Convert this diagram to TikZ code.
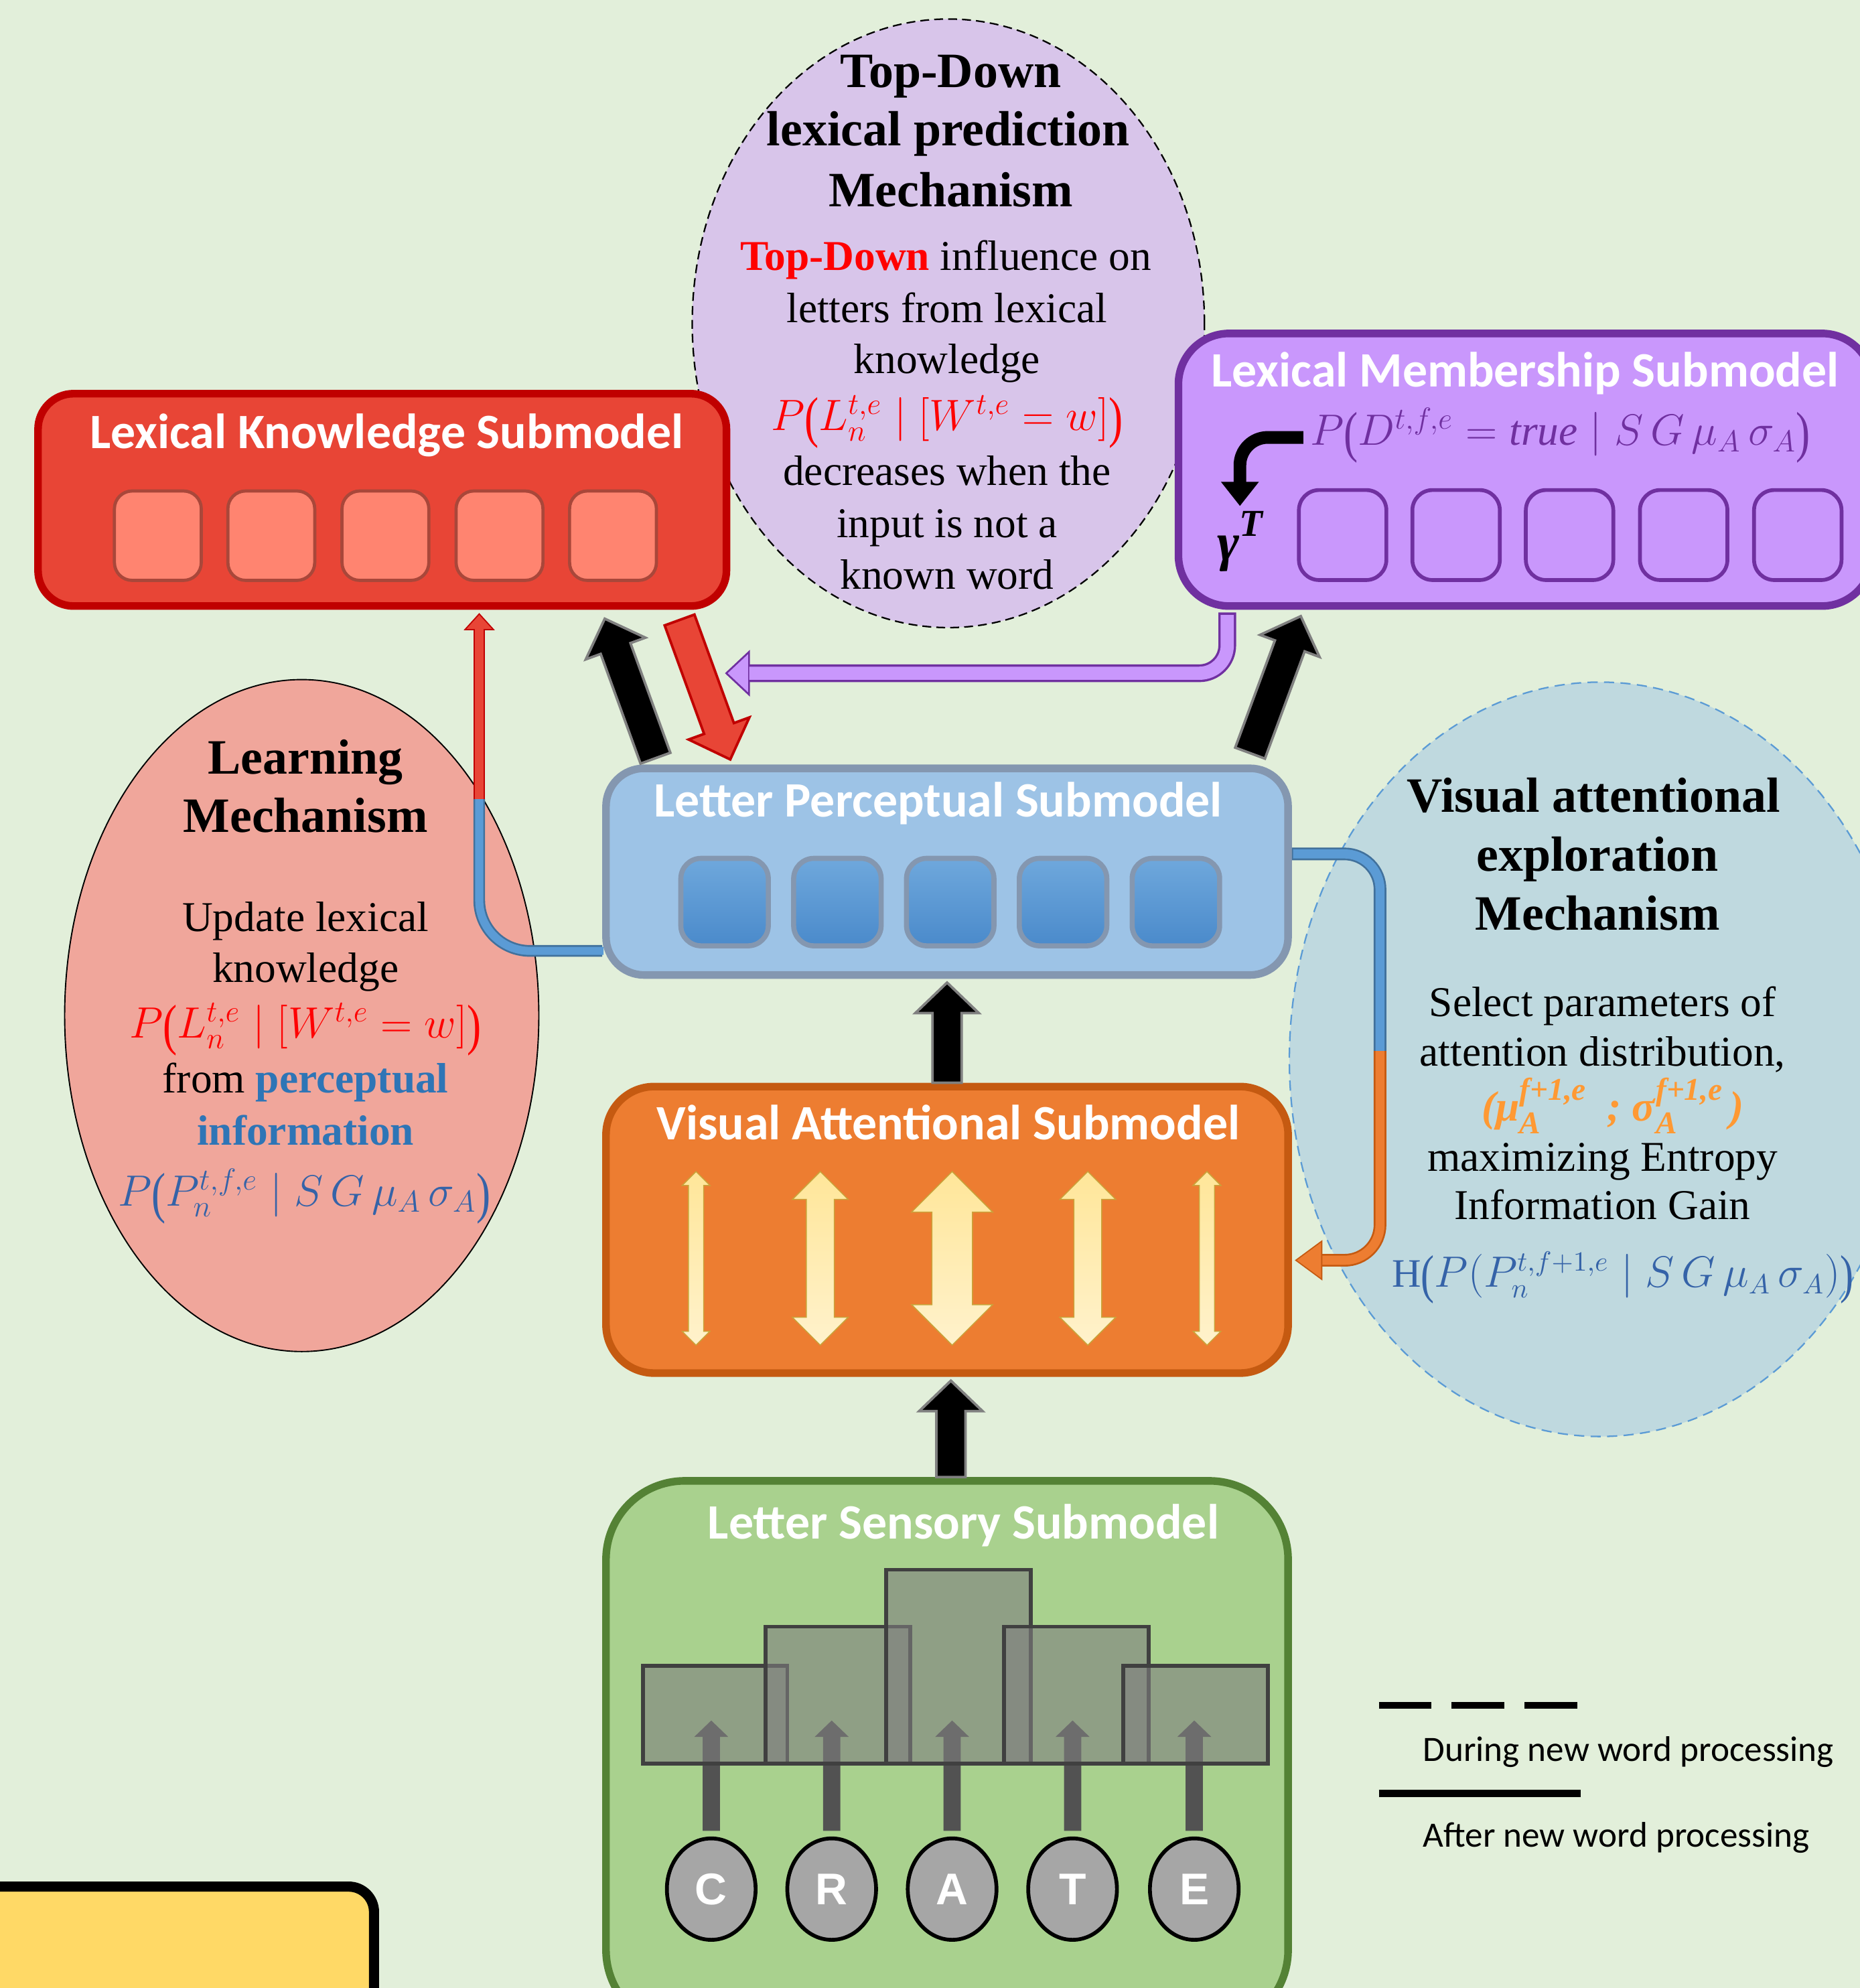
\documentclass[tikz,border=0pt]{standalone}
\usepackage{amsmath}
\usepackage{graphicx}
\usepackage{fontspec}
\setmainfont{Liberation Serif}
\newfontfamily\calibri{Carlito}
\newfontfamily\arialf{Liberation Sans}
\usetikzlibrary{calc,shapes.geometric}

\definecolor{bg}{HTML}{E2EFDA}
\definecolor{tdfill}{HTML}{D8C5EA}
\definecolor{lefill}{HTML}{F0A69B}
\definecolor{vefill}{HTML}{BFD9DF}
\definecolor{veline}{HTML}{5B9BD5}
\definecolor{lkfill}{HTML}{E84536}
\definecolor{lkdraw}{HTML}{C00000}
\definecolor{lkcell}{HTML}{FF8470}
\definecolor{lkcelld}{HTML}{A9473A}
\definecolor{lmfill}{HTML}{C997FC}
\definecolor{lmdraw}{HTML}{7030A0}
\definecolor{lpfill}{HTML}{9DC3E6}
\definecolor{lpdraw}{HTML}{8497B0}
\definecolor{lpcta}{HTML}{6FA8DC}
\definecolor{lpctb}{HTML}{4A8ACB}
\definecolor{vafill}{HTML}{ED7D31}
\definecolor{vadraw}{HTML}{C55A11}
\definecolor{lsfill}{HTML}{A9D18E}
\definecolor{lsdraw}{HTML}{548235}
\definecolor{ylw}{HTML}{FFD966}
\definecolor{redt}{HTML}{FF0000}
\definecolor{pblue}{HTML}{2E75B6}
\definecolor{fblue}{HTML}{3563A8}
\definecolor{forange}{HTML}{FF9933}
\definecolor{pipeblue}{HTML}{5B9BD5}
\definecolor{pipeblued}{HTML}{41719C}
\definecolor{dblt}{HTML}{FFE699}
\definecolor{dblb}{HTML}{FFF2CC}
\definecolor{dbld}{HTML}{C9A33A}
\definecolor{gcirc}{HTML}{A6A6A6}
\definecolor{garrow}{HTML}{525252}
\definecolor{grect}{HTML}{7F7F7F}
\definecolor{rectd}{HTML}{404040}

\newcommand\bi[1]{\textbf{\textit{#1}}}
\newcommand\bpl{\mathopen{\raisebox{-0.14em}{\scalebox{1}[1.32]{(}}}}
\newcommand\bpr{\mathclose{\raisebox{-0.14em}{\scalebox{1}[1.32]{)}}}}
\newcommand\supsub[2]{\raisebox{-0.3em}{\makebox[0pt][l]{\fontsize{12.5}{13}\selectfont\bi{#2}}}\raisebox{0.48em}{\fontsize{12.5}{13}\selectfont\bi{#1}}}
\newcommand\fLW{$P\bpl L_n^{t,e} \mid [W^{t,e} = w]\bpr$}
\newcommand\fPP{$P\bpl P_n^{t,f,e} \mid S\,G\,\mu_A\,\sigma_A\bpr$}
\newcommand\fOR{\bi{(μ}\supsub{f+1,e}{A}\ \ \bi{\char59}\ \bi{σ}\supsub{f+1,e}{A}\,\bi{)}}
\newcommand\fHH{$\mathrm{H}\bpl P(P_n^{t,f+1,e} \mid S\,G\,\mu_A\,\sigma_A)\bpr$}
\newcommand\fDD{$P\bpl D^{t,f,e} = \mathit{true} \mid S\,G\,\mu_A\,\sigma_A\bpr$}
\newcommand\fGT{\bi{γ}\raisebox{0.45em}{\fontsize{15}{16}\selectfont\bi{T}}}

% block arrow: #1 style, #2 tail, #3 tip, #4 half shaft, #5 half head, #6 head length
\newcommand\blockarrow[6]{%
  \coordinate (baH) at ($(#3)!#6!(#2)$);
  \path[#1] ($(#2)!#4!90:(#3)$) -- ($(baH)!#4!90:(#3)$) -- ($(baH)!#5!90:(#3)$) -- (#3)
    -- ($(baH)!#5!-90:(#3)$) -- ($(baH)!#4!-90:(#3)$) -- ($(#2)!#4!-90:(#3)$) -- cycle;
}
% double vertical arrow: #1 x, #2 half shaft, #3 half head, #4 head length (units)
\newcommand\dblarrow[4]{%
  \shadedraw[dblsty] (#1,924) -- ({#1+#3},{924+#4}) -- ({#1+#2},{924+#4}) -- ({#1+#2},{1061-#4})
    -- ({#1+#3},{1061-#4}) -- (#1,1061) -- ({#1-#3},{1061-#4}) -- ({#1-#2},{1061-#4})
    -- ({#1-#2},{924+#4}) -- ({#1-#3},{924+#4}) -- cycle;
}

\begin{document}
\begin{tikzpicture}[x=0.5pt,y=-0.5pt,
  ttl/.style={font=\fontsize{19.5}{23}\selectfont\bfseries, inner sep=0, anchor=base},
  bdy/.style={font=\fontsize{16.75}{20}\selectfont, inner sep=0, anchor=base},
  boxttl/.style={font=\calibri\fontsize{19.5}{23}\selectfont\bfseries, text=white, inner sep=0, anchor=base},
  leg/.style={font=\calibri\fontsize{14.05}{17}\selectfont, inner sep=0, anchor=base west},
  bigbox/.style={rectangle, line width=3pt, inner sep=0},
  lkcellsty/.style={rectangle, rounded corners=7pt, fill=lkcell, draw=lkcelld, line width=1.25pt, minimum width=34.25pt, minimum height=35.25pt, inner sep=0},
  lmcellsty/.style={rectangle, rounded corners=8pt, fill=lmfill, draw=lmdraw, line width=1.5pt, minimum width=34.5pt, minimum height=35.5pt, inner sep=0},
  lpcellsty/.style={rectangle, rounded corners=8pt, top color=lpcta, bottom color=lpctb, draw=lpdraw, line width=2pt, minimum width=34.5pt, minimum height=34.5pt, inner sep=0},
  circsty/.style={ellipse, fill=gcirc, draw=black, line width=1.5pt, minimum width=35pt, minimum height=40pt, inner sep=0, text=white, font=\arialf\bfseries\fontsize{17.5}{20}\selectfont},
  rectsty/.style={fill=grect, fill opacity=0.6, draw=rectd, line width=1.5pt},
  dblsty/.style={top color=dblt, bottom color=dblb, draw=dbld, line width=0.4pt},
  blk/.style={fill=black, draw=gray, line width=1pt, line join=miter},
  redblk/.style={fill=lkfill, draw=lkdraw, line width=1pt, line join=miter},
  garr/.style={fill=garrow}
]
\useasboundingbox (0,0) rectangle (1467,1568);
\clip (0,0) rectangle (1467,1568);
\fill[bg] (0,0) rectangle (1467,1568);

% ---------- ellipses ----------
\node[ellipse, draw=black, dash pattern=on 3.5pt off 2pt, line width=0.6pt, fill=tdfill,
      minimum width=202pt, minimum height=240pt, inner sep=0] (tdell) at (748,255) {};
\node[ellipse, draw=black, line width=0.5pt, fill=lefill,
      minimum width=187pt, minimum height=265pt, inner sep=0] (leell) at (238,801) {};
\node[ellipse, draw=veline, dash pattern=on 4pt off 2.5pt, line width=0.6pt, fill=vefill,
      minimum width=245pt, minimum height=297.5pt, inner sep=0] (veell) at (1262,835.5) {};

% Top-Down texts
\node[ttl] (td1) at (750,69) {Top-Down};
\node[ttl] (td2) at (748,115) {lexical prediction};
\node[ttl] (td3) at (750,163) {Mechanism};
\node[bdy] (td4) at (746,213) {{\color{redt}\bfseries Top-Down} influence on};
\node[bdy] (td5) at (747,254.5) {letters from lexical};
\node[bdy] (td6) at (747,294.5) {knowledge};
\node[bdy,text=redt] (td7) at (747,339.5) {\fLW};
\node[bdy] (td8) at (747,382.5) {decreases when the};
\node[bdy] (td9) at (747,424) {input is not a};
\node[bdy] (td10) at (747,464.5) {known word};

% Learning texts
\node[ttl] (le1) at (241,610.5) {Learning};
\node[ttl] (le2) at (241,656.5) {Mechanism};
\node[bdy] (le3) at (241,734.5) {Update lexical};
\node[bdy] (le4) at (241,774.5) {knowledge};
\node[bdy,text=redt] (le5) at (241,818.5) {\fLW};
\node[bdy] (le6) at (241,862) {from {\color{pblue}\bfseries perceptual}};
\node[bdy,text=pblue] (le7) at (241,903) {\bfseries information};
\node[bdy,text=fblue] (le8) at (240,951) {\fPP};

% Visual exploration texts
\node[ttl] (ve1) at (1257,640.5) {Visual attentional};
\node[ttl] (ve2) at (1260,687) {exploration};
\node[ttl] (ve3) at (1260,733.5) {Mechanism};
\node[bdy] (ve4) at (1264,801.5) {Select parameters of};
\node[bdy] (ve5) at (1264,841) {attention distribution,};
\node[bdy,text=forange] (ve6) at (1272,884) {\fOR};
\node[bdy] (ve7) at (1264,923.5) {maximizing Entropy};
\node[bdy] (ve8) at (1264,962) {Information Gain};
\node[bdy,text=fblue,font=\fontsize{15.9}{19}\selectfont] (ve9) at (1280,1015) {\fHH};

% ---------- Lexical Knowledge ----------
\node[bigbox, fill=lkfill, draw=lkdraw, rounded corners=14pt, minimum width=271.5pt, minimum height=83.75pt] (lk) at (301.5,394.25) {};
\node[boxttl] (lkt) at (305,353.5) {Lexical Knowledge Submodel};
\foreach \i/\xx in {1/124.5,2/214,3/304,4/394,5/483.5}
  \node[lkcellsty] (lkc\i) at (\xx,422.5) {};

% ---------- Lexical Membership ----------
\node[bigbox, fill=lmfill, draw=lmdraw, rounded corners=20pt, minimum width=273.75pt, minimum height=107.5pt] (lm) at (1203.25,370.5) {};
\node[boxttl] (lmt) at (1203,305) {Lexical Membership Submodel};
\node[bdy, text=lmdraw, anchor=base west] (lmf) at (1033,351) {\fDD};
\node[bdy, anchor=base west, font=\fontsize{21}{24}\selectfont] (gam) at (960,442) {\fGT};
\foreach \i/\xx in {1/1059,2/1148.5,3/1238,4/1328,5/1418}
  \node[lmcellsty] (lmc\i) at (\xx,422) {};
\coordinate (cb0) at ($(lmf.base west)+(-5,-6)$);
\coordinate (cbtip) at (978,399);
\draw[line width=5pt, rounded corners=11pt] (cb0) -| (978,381);
\fill (963,380) -- (cbtip) -- (993,380) -- cycle;

% ---------- Letter Perceptual ----------
\node[bigbox, fill=lpfill, draw=lpdraw, rounded corners=15pt, minimum width=269pt, minimum height=81.5pt] (lp) at (747,687.5) {};
\node[boxttl] (lpt) at (740,644) {Letter Perceptual Submodel};
\foreach \i/\xx in {1/571.5,2/660.5,3/749.5,4/838.5,5/927.5}
  \node[lpcellsty] (lpc\i) at (\xx,711.5) {};

% ---------- Visual Attentional ----------
\node[bigbox, fill=vafill, draw=vadraw, rounded corners=19pt, minimum width=269pt, minimum height=113pt] (va) at (747,970) {};
\node[boxttl] (vat) at (748,899) {Visual Attentional Submodel};
\dblarrow{549}{6}{11}{11}
\dblarrow{647}{11}{22}{22}
\dblarrow{751}{16}{32}{32}
\dblarrow{858}{11}{22}{22}
\dblarrow{952}{6}{11}{11}

% ---------- Letter Sensory ----------
\node[bigbox, fill=lsfill, draw=lsdraw, rounded corners=31pt, minimum width=269pt, minimum height=216pt] (ls) at (747,1384) {};
\node[boxttl] (lst) at (760,1214) {Letter Sensory Submodel};
\foreach \i/\xx/\ll in {1/561/C,2/656/R,3/751/A,4/846/T,5/942/E}{
  \node[circsty] (c\i) at (\xx,1490) {\ll};
  \coordinate (s\i a) at ($(c\i.north)+(0,-4.5)$);
  \coordinate (s\i b) at ($(c\i.north)+(0,-91.5)$);
  \blockarrow{garr}{s\i a}{s\i b}{3.4pt}{6.75pt}{6.5pt}
}
\draw[rectsty] (507,1314) rectangle (621,1391);
\draw[rectsty] (604,1283) rectangle (718,1391);
\draw[rectsty] (699,1238) rectangle (813,1391);
\draw[rectsty] (792,1283) rectangle (906,1391);
\draw[rectsty] (886,1314) rectangle (1000,1391);

% ---------- block arrows between submodels ----------
\coordinate (k1a) at ($(lp.north)+(-230,-5)$);
\coordinate (k1b) at ($(lk.south)+(175.5,7)$);
\blockarrow{blk}{k1a}{k1b}{6.25pt}{12.5pt}{12.5pt}
\coordinate (r1a) at ($(lk.south)+(234.5,8)$);
\coordinate (r1b) at ($(lp.north)+(-171,-4)$);
\blockarrow{redblk}{r1a}{r1b}{6.25pt}{12.75pt}{13pt}
\coordinate (k2a) at ($(lp.north)+(239,-9)$);
\coordinate (k2b) at ($(lm.south)+(-177.25,5)$);
\blockarrow{blk}{k2a}{k2b}{6.25pt}{12.5pt}{12.5pt}
\coordinate (k3a) at (va.north);
\coordinate (k3b) at ($(lp.south)+(0,3)$);
\blockarrow{blk}{k3a}{k3b}{5.75pt}{12.5pt}{12pt}
\coordinate (k4a) at ($(ls.north)+(3,0)$);
\coordinate (k4b) at ($(va.south)+(3,3)$);
\blockarrow{blk}{k4a}{k4b}{5.75pt}{12.5pt}{12pt}

% ---------- purple pipe ----------
\coordinate (pp0) at ($(lm.south west)+(41.5,2)$);
\coordinate (pptip) at (574,531);
\draw[line width=7pt, draw=lmdraw, rounded corners=11pt] (pp0) |- (589,531);
\filldraw[lmdraw, line width=1.5pt, line join=miter] (590,516) -- (pptip) -- (590,546) -- cycle;
\draw[line width=5.2pt, draw=lmfill, rounded corners=11pt] ($(pp0)+(0,2)$) |- (591,531);
\fill[lmfill] (590,516) -- (pptip) -- (590,546) -- cycle;

% ---------- left pipe (blue then red) ----------
\coordinate (lp0) at ($(lp.south west)+(0,-22)$);
\coordinate (lpj) at (378,630);
\coordinate (lptip) at ($(lk.south west)+(351,4)$);
\draw[line width=4.6pt, draw=pipeblued, rounded corners=20pt] (lp0) -| (lpj);
\draw[line width=3.2pt, draw=pipeblue, rounded corners=20pt] ($(lp0)+(1,0)$) -| (lpj);
\draw[line width=4.6pt, draw=lkdraw] (lpj) -- (378,495);
\filldraw[lkdraw, line width=1pt, line join=miter] (368,496) -- (lptip) -- (388,496) -- cycle;
\draw[line width=3.2pt, draw=lkfill] (lpj) -- (378,494);
\fill[lkfill] (368,496) -- (lptip) -- (388,496) -- cycle;

% ---------- right pipe (blue then orange) ----------
\coordinate (rp0) at ($(lp.north east)+(0,70.5)$);
\coordinate (rpj) at (1088.5,829);
\coordinate (rptip) at ($(va.east)+(4,24)$);
\draw[line width=5pt, draw=pipeblued, rounded corners=14pt] (rp0) -| (rpj);
\draw[line width=3.6pt, draw=pipeblue, rounded corners=14pt] ($(rp0)+(1,0)$) -| (rpj);
\draw[line width=5pt, draw=vadraw, rounded corners=14pt] (rpj) |- (1041,994);
\filldraw[vadraw, line width=1pt, line join=miter] (1042,980) -- (rptip) -- (1042,1008) -- cycle;
\draw[line width=3.6pt, draw=vafill, rounded corners=14pt] (rpj) |- (1043,994);
\fill[vafill] (1042,980) -- (rptip) -- (1042,1008) -- cycle;

% ---------- legend ----------
\coordinate (lg1a) at (1087.5,1345);
\coordinate (lg1b) at (1244,1345);
\draw[line width=2.75pt, dash pattern=on 20.75pt off 8pt] (lg1a) -- (lg1b);
\node[leg] (lgt1) at (1122,1389) {During new word processing};
\coordinate (lg2a) at (1087.5,1414.5);
\coordinate (lg2b) at (1247,1414.5);
\draw[line width=2.75pt] (lg2a) -- (lg2b);
\node[leg] (lgt2) at (1122,1457) {After new word processing};

% ---------- yellow box ----------
\node[rectangle, draw=black, line width=4pt, fill=ylw, rounded corners=10pt,
      minimum width=177.5pt, minimum height=106pt, inner sep=0] (yb) at (117.5,1594) {};
\end{tikzpicture}
\end{document}
